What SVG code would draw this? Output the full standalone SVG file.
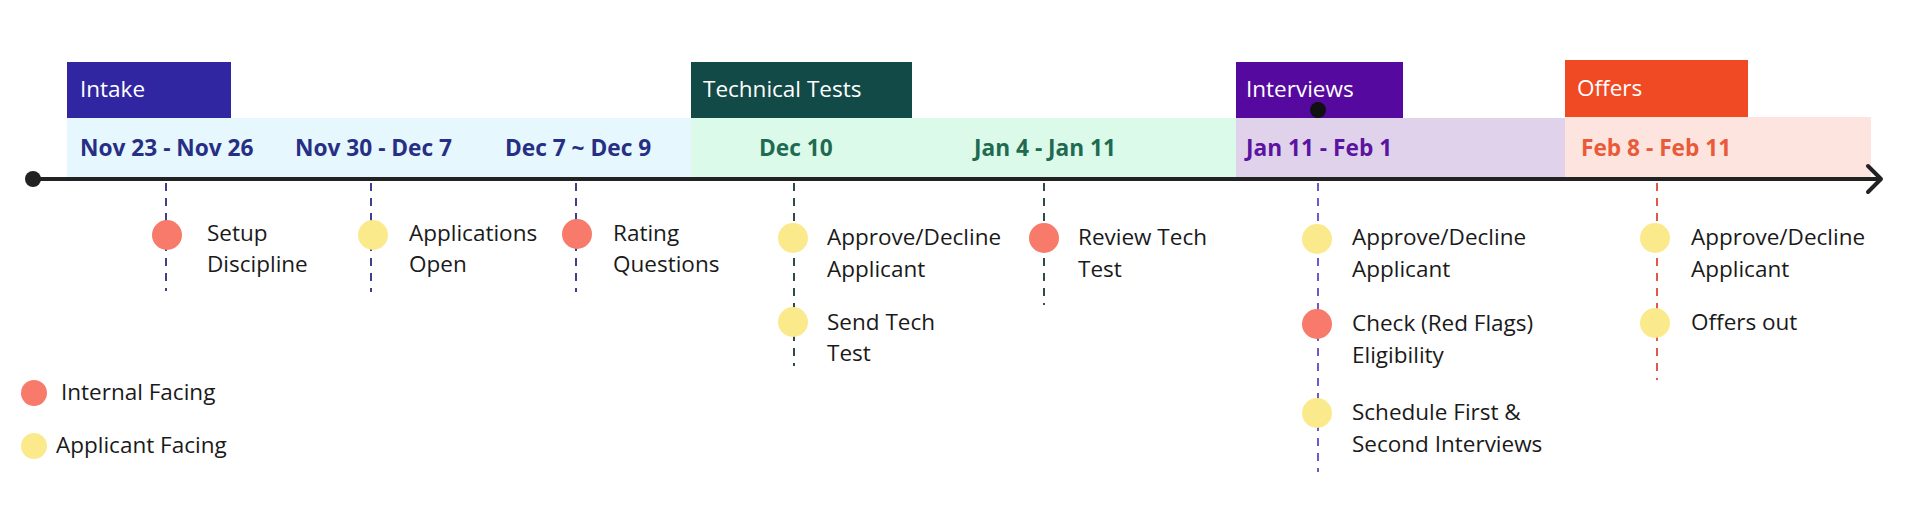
<svg xmlns="http://www.w3.org/2000/svg" width="1910" height="523" viewBox="0 0 1910 523">
<style>
text{font-family:"Open Sans","Noto Sans","Liberation Sans",sans-serif;}
.hd{font-size:22.5px;fill:#fff;}
.dt{font-size:22.7px;font-weight:700;}
.lb{font-size:22.5px;fill:#1a1a1a;}
.red{fill:#f77a6a;}
.yel{fill:#fbea8c;}
.dash{stroke-width:2;stroke-dasharray:8 7;fill:none;}
</style>
<rect width="1910" height="523" fill="#fff"/>
<g id="phase-intake">
<rect x="67" y="118" width="624" height="61" fill="#e6f7fd"/>
<rect x="67" y="62" width="164" height="56" fill="#3026a2"/>
<text class="hd" x="80" y="97">Intake</text>
</g>
<g id="phase-tech">
<rect x="691" y="118" width="545" height="61" fill="#dcfaea"/>
<rect x="691" y="62" width="221" height="56" fill="#124a47"/>
<text class="hd" x="703" y="97">Technical Tests</text>
</g>
<g id="phase-interviews">
<rect x="1236" y="118" width="329" height="61" fill="#e1d2ec"/>
<rect x="1236" y="62" width="167" height="56" fill="#56099f"/>
<text class="hd" x="1246" y="97">Interviews</text>
</g>
<g id="phase-offers">
<rect x="1565" y="117" width="306" height="62" fill="#fde4de"/>
<rect x="1565" y="60" width="183" height="57" fill="#f04a25"/>
<text class="hd" x="1577" y="96">Offers</text>
</g>
<g id="dates">
<text class="dt" x="80" y="156" fill="#272f85">Nov 23 - Nov 26</text>
<text class="dt" x="295" y="156" fill="#272f85">Nov 30 - Dec 7</text>
<text class="dt" x="505" y="156" fill="#272f85">Dec 7 ~ Dec 9</text>
<text class="dt" x="759" y="156" fill="#1f6b52">Dec 10</text>
<text class="dt" x="974" y="156" fill="#1f6b52">Jan 4 - Jan 11</text>
<text class="dt" x="1246" y="156" fill="#5a14a0">Jan 11 - Feb 1</text>
<text class="dt" x="1581" y="156" fill="#e85a3a">Feb 8 - Feb 11</text>
</g>
<g id="connectors">
<line class="dash" x1="166" y1="183" x2="166" y2="291" stroke="#3d3f8f"/>
<line class="dash" x1="371" y1="183" x2="371" y2="292" stroke="#3d3f8f"/>
<line class="dash" x1="576" y1="183" x2="576" y2="292" stroke="#3d3f8f"/>
<line class="dash" x1="794" y1="183" x2="794" y2="366" stroke="#2f4a4a"/>
<line class="dash" x1="1044" y1="183" x2="1044" y2="305" stroke="#2f4a4a"/>
<line class="dash" x1="1318" y1="183" x2="1318" y2="472" stroke="#6a5acd"/>
<line class="dash" x1="1657" y1="183" x2="1657" y2="380" stroke="#e0584a"/>
<line x1="33" y1="179" x2="1880" y2="179" stroke="#222" stroke-width="4"/>
<circle cx="33" cy="179" r="8" fill="#222"/>
<polyline points="1868,166 1881,179 1868,192" fill="none" stroke="#222" stroke-width="4" stroke-linecap="round" stroke-linejoin="round"/>
<circle cx="1318" cy="110" r="8" fill="#111"/>
</g>
<g id="ev-setup">
<circle class="red" cx="167" cy="235" r="15"/>
<text class="lb" x="207" y="241">Setup</text>
<text class="lb" x="207" y="272">Discipline</text>
</g>
<g id="ev-apps-open">
<circle class="yel" cx="373" cy="235" r="15"/>
<text class="lb" x="409" y="241">Applications</text>
<text class="lb" x="409" y="272">Open</text>
</g>
<g id="ev-rating">
<circle class="red" cx="577" cy="234" r="15"/>
<text class="lb" x="613" y="241">Rating</text>
<text class="lb" x="613" y="272">Questions</text>
</g>
<g id="ev-approve-1">
<circle class="yel" cx="793" cy="238" r="15"/>
<text class="lb" x="827" y="245">Approve/Decline</text>
<text class="lb" x="827" y="277">Applicant</text>
</g>
<g id="ev-send-tech">
<circle class="yel" cx="793" cy="322" r="15"/>
<text class="lb" x="827" y="330">Send Tech</text>
<text class="lb" x="827" y="361">Test</text>
</g>
<g id="ev-review-tech">
<circle class="red" cx="1044" cy="238" r="15"/>
<text class="lb" x="1078" y="245">Review Tech</text>
<text class="lb" x="1078" y="277">Test</text>
</g>
<g id="ev-approve-2">
<circle class="yel" cx="1317" cy="239" r="15"/>
<text class="lb" x="1352" y="245">Approve/Decline</text>
<text class="lb" x="1352" y="277">Applicant</text>
</g>
<g id="ev-check">
<circle class="red" cx="1317" cy="324" r="15"/>
<text class="lb" x="1352" y="331">Check (Red Flags)</text>
<text class="lb" x="1352" y="363">Eligibility</text>
</g>
<g id="ev-schedule">
<circle class="yel" cx="1317" cy="413" r="15"/>
<text class="lb" x="1352" y="420">Schedule First &amp;</text>
<text class="lb" x="1352" y="452">Second Interviews</text>
</g>
<g id="ev-approve-3">
<circle class="yel" cx="1655" cy="238" r="15"/>
<text class="lb" x="1691" y="245">Approve/Decline</text>
<text class="lb" x="1691" y="277">Applicant</text>
</g>
<g id="ev-offers-out">
<circle class="yel" cx="1655" cy="323" r="15"/>
<text class="lb" x="1691" y="330">Offers out</text>
</g>
<g id="legend">
<circle class="red" cx="34" cy="393" r="13"/>
<text class="lb" x="61" y="400">Internal Facing</text>
<circle class="yel" cx="34" cy="446" r="13"/>
<text class="lb" x="56" y="453">Applicant Facing</text>
</g>
</svg>
